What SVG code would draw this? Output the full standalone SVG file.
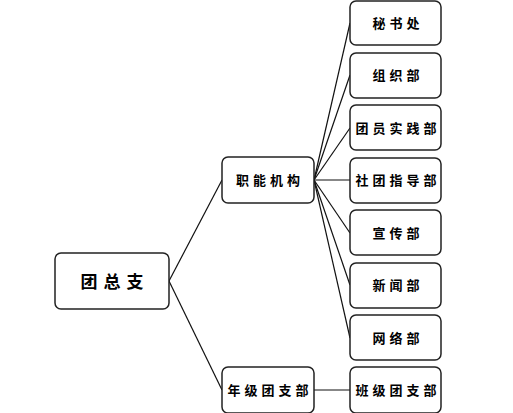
<svg xmlns="http://www.w3.org/2000/svg" width="513" height="413" viewBox="0 0 513 413">
<style>
.box{fill:#fff;stroke:#222;stroke-width:1.5}
.t{font-family:"Noto Sans CJK SC","Noto Sans CJK JP",sans-serif;font-weight:bold;font-size:13px;fill:#000;text-anchor:middle;dominant-baseline:central;letter-spacing:4px}
.r{font-size:17px;letter-spacing:6px}
.c{fill:none;stroke:#111;stroke-width:1.2}
</style>
<rect width="513" height="413" fill="#fff"/>
<g id="connectors">
<line class="c" x1="169" y1="281" x2="222" y2="180"/>
<line class="c" x1="169" y1="281" x2="222" y2="390"/>
<line class="c" x1="314" y1="180" x2="350" y2="23"/>
<line class="c" x1="314" y1="180" x2="350" y2="75"/>
<line class="c" x1="314" y1="180" x2="350" y2="128"/>
<line class="c" x1="314" y1="180" x2="350" y2="180"/>
<line class="c" x1="314" y1="180" x2="350" y2="233"/>
<line class="c" x1="314" y1="180" x2="350" y2="285"/>
<line class="c" x1="314" y1="180" x2="350" y2="338"/>
<line class="c" x1="314" y1="390" x2="350" y2="390"/>
</g>
<g id="root"><rect class="box" x="55" y="253" width="114" height="56" rx="6"/><text class="t r" x="115" y="280">团总支</text></g>
<g id="zhineng"><rect class="box" x="222" y="157" width="92" height="46" rx="6"/><text class="t" x="270" y="179">职能机构</text></g>
<g id="nianji"><rect class="box" x="222" y="367" width="92" height="46" rx="6"/><text class="t" x="270" y="389">年级团支部</text></g>
<g id="mishu"><rect class="box" x="350" y="1" width="91" height="44" rx="6"/><text class="t" x="398" y="22">秘书处</text></g>
<g id="zuzhi"><rect class="box" x="350" y="53" width="91" height="45" rx="6"/><text class="t" x="398" y="74">组织部</text></g>
<g id="tuanyuan"><rect class="box" x="350" y="105" width="91" height="45" rx="6"/><text class="t" x="398" y="127">团员实践部</text></g>
<g id="shetuan"><rect class="box" x="350" y="158" width="91" height="45" rx="6"/><text class="t" x="398" y="179">社团指导部</text></g>
<g id="xuanchuan"><rect class="box" x="350" y="210" width="91" height="45" rx="6"/><text class="t" x="398" y="232">宣传部</text></g>
<g id="xinwen"><rect class="box" x="350" y="263" width="91" height="45" rx="6"/><text class="t" x="398" y="284">新闻部</text></g>
<g id="wangluo"><rect class="box" x="350" y="315" width="91" height="45" rx="6"/><text class="t" x="398" y="337">网络部</text></g>
<g id="banji"><rect class="box" x="350" y="367" width="91" height="46" rx="6"/><text class="t" x="398" y="389">班级团支部</text></g>
</svg>
